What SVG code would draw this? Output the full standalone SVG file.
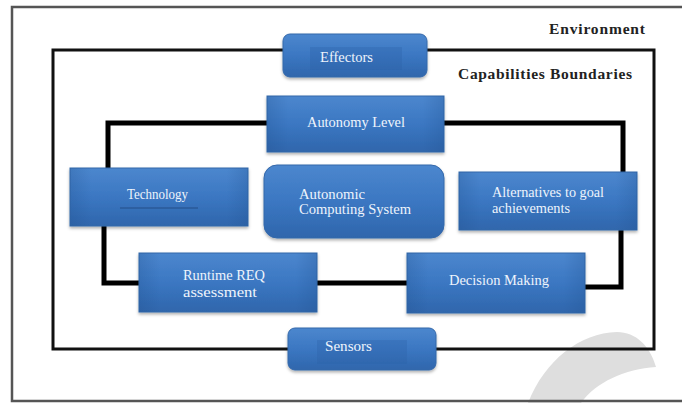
<svg xmlns="http://www.w3.org/2000/svg" width="682" height="403" viewBox="0 0 682 403">
  <defs>
    <linearGradient id="boxFill" x1="0" y1="0" x2="0" y2="1">
      <stop offset="0" stop-color="#4c87ce"/>
      <stop offset="0.5" stop-color="#3b77c2"/>
      <stop offset="1" stop-color="#2f66ac"/>
    </linearGradient>
    <linearGradient id="sideShade" x1="0" y1="0" x2="1" y2="0">
      <stop offset="0" stop-color="#1f4f8c" stop-opacity="0.25"/>
      <stop offset="0.12" stop-color="#1f4f8c" stop-opacity="0"/>
      <stop offset="0.88" stop-color="#1f4f8c" stop-opacity="0"/>
      <stop offset="1" stop-color="#1f4f8c" stop-opacity="0.25"/>
    </linearGradient>
    <filter id="shadow" x="-10%" y="-10%" width="120%" height="130%">
      <feDropShadow dx="0" dy="2" stdDeviation="1.5" flood-color="#000" flood-opacity="0.3"/>
    </filter>
    <style>
      .box { fill: url(#boxFill); stroke: #3468aa; stroke-width: 1; filter: url(#shadow); }
      .shade { fill: url(#sideShade); stroke: none; }
      .label { font-family: "Liberation Serif", "Times New Roman", serif; font-size: 14px; fill: #eef4fc; }
      .title { font-family: "Liberation Serif", "Times New Roman", serif; font-size: 15.5px; font-weight: bold; fill: #222; }
      .thin { fill: none; stroke: #111; stroke-width: 3; }
      .thick { fill: none; stroke: #000; stroke-width: 5; }
      .textbox { fill: #2c60a4; opacity: 0.3; }
    </style>
  </defs>

  <rect width="682" height="403" fill="#ffffff"/>

  <!-- decorative swoosh at the lower right -->
  <path d="M528,403 C545,360 580,333 617,332 C636,332 650,346 656,367 C625,369 596,382 581,403 Z" fill="#dedede"/>

  <!-- environment frame -->
  <path d="M682,7 H12 V401 H682" fill="none" stroke="#555" stroke-width="2.5"/>

  <text class="title" x="549" y="34" textLength="96" lengthAdjust="spacing">Environment</text>
  <text class="title" x="458" y="79" textLength="174" lengthAdjust="spacing">Capabilities Boundaries</text>

  <!-- connectors -->
  <g id="connectors">
    <!-- capabilities boundary loop through Effectors and Sensors -->
    <path class="thin" d="M283,50 H53 V349 H289"/>
    <path class="thin" d="M427,50 H654 V349 H436"/>
    <!-- inner capability loop -->
    <path class="thick" d="M267,123 H108 V168"/>
    <path class="thick" d="M444,123 H623 V172"/>
    <path class="thick" d="M104,226 V283 H139"/>
    <path class="thick" d="M317,283 H407"/>
    <path class="thick" d="M585,287 H621 V230"/>
  </g>

  <g id="effectors">
    <rect class="box" x="283" y="34" width="144" height="43" rx="7"/>
    <rect class="textbox" x="310" y="47" width="92" height="23"/>
    <text class="label" x="320" y="62" textLength="53" lengthAdjust="spacingAndGlyphs">Effectors</text>
  </g>

  <g id="autonomy-level">
    <rect class="box" x="267" y="96" width="177" height="56"/>
    <rect class="shade" x="267" y="96" width="177" height="56"/>
    <text class="label" x="307" y="127" textLength="98" lengthAdjust="spacingAndGlyphs">Autonomy Level</text>
  </g>

  <g id="technology">
    <rect class="box" x="70" y="168" width="178" height="58"/>
    <rect class="shade" x="70" y="168" width="178" height="58"/>
    <text class="label" x="127" y="199" textLength="61" lengthAdjust="spacingAndGlyphs">Technology</text>
    <line x1="120" y1="208" x2="198" y2="208" stroke="#244f88" stroke-width="1.2"/>
  </g>

  <g id="autonomic-computing-system">
    <rect class="box" x="264" y="165" width="180" height="73" rx="13"/>
    <text class="label" x="299" y="199" textLength="66" lengthAdjust="spacingAndGlyphs">Autonomic</text>
    <text class="label" x="299" y="214" textLength="112" lengthAdjust="spacingAndGlyphs">Computing System</text>
  </g>

  <g id="alternatives">
    <rect class="box" x="459" y="172" width="178" height="58"/>
    <rect class="shade" x="459" y="172" width="178" height="58"/>
    <text class="label" x="492" y="197" textLength="112" lengthAdjust="spacingAndGlyphs">Alternatives to goal</text>
    <text class="label" x="492" y="213" textLength="78" lengthAdjust="spacingAndGlyphs">achievements</text>
  </g>

  <g id="runtime-req">
    <rect class="box" x="139" y="253" width="178" height="59"/>
    <rect class="shade" x="139" y="253" width="178" height="59"/>
    <text class="label" x="183" y="280" textLength="82" lengthAdjust="spacingAndGlyphs">Runtime REQ</text>
    <text class="label" x="183" y="297" textLength="74" lengthAdjust="spacingAndGlyphs">assessment</text>
  </g>

  <g id="decision-making">
    <rect class="box" x="407" y="253" width="178" height="60"/>
    <rect class="shade" x="407" y="253" width="178" height="60"/>
    <text class="label" x="449" y="285" textLength="100" lengthAdjust="spacingAndGlyphs">Decision Making</text>
  </g>

  <g id="sensors">
    <rect class="box" x="288" y="328" width="148" height="42" rx="7"/>
    <rect class="textbox" x="317" y="340" width="90" height="24"/>
    <text class="label" x="325" y="351" textLength="47" lengthAdjust="spacingAndGlyphs">Sensors</text>
  </g>
</svg>
